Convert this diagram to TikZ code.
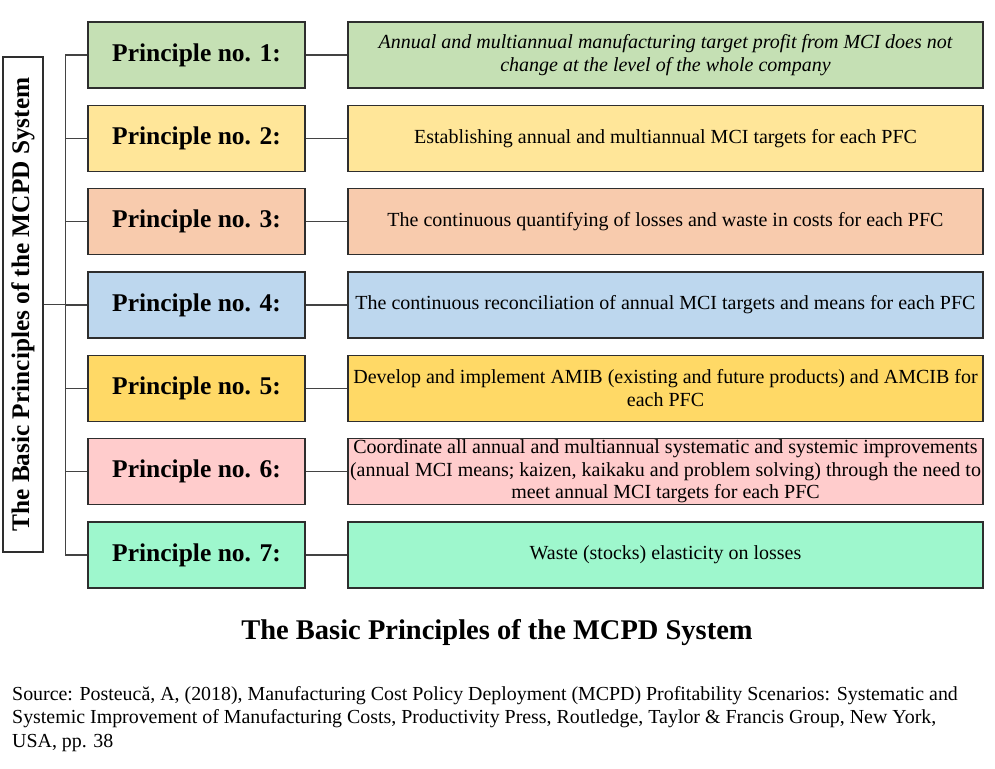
\documentclass[tikz,border=0pt]{standalone}
\usepackage{fontspec}
\setmainfont{Liberation Serif}
\definecolor{cA}{HTML}{C5E0B4}
\definecolor{cB}{HTML}{FFE699}
\definecolor{cC}{HTML}{F8CBAD}
\definecolor{cD}{HTML}{BDD7EE}
\definecolor{cE}{HTML}{FFD966}
\definecolor{cF}{HTML}{FFCCCC}
\definecolor{cG}{HTML}{9EF7CD}
\definecolor{edge}{HTML}{2E2E2E}
\begin{document}
\begin{tikzpicture}[x=1pt,y=-1pt,
 pbox/.style={draw=edge, line width=1.2pt, minimum width=217pt, minimum height=66pt, inner sep=0pt, font=\fontsize{25.5}{30}\selectfont\bfseries},
 dbox/.style={draw=edge, line width=1.2pt, minimum width=635pt, minimum height=66pt, inner sep=0pt, align=center, font=\fontsize{20}{22.5}\selectfont},
 conn/.style={draw=edge!90, line width=1.2pt},
 srcline/.style={anchor=base west, inner sep=0pt, font=\fontsize{19.9}{23}\selectfont}]
\useasboundingbox (0,0) rectangle (995,768);
% left rotated box
\node[draw=edge, line width=1.2pt, rotate=90, minimum width=495pt, minimum height=40pt, inner sep=0pt, font=\fontsize{25.3}{30}\selectfont\bfseries] (lb) at (23,304.5) {The Basic Principles of the MCPD System};
% principle boxes
\node[pbox, fill=cA] (p1) at (196.5,55) {Principle no. 1:};
\node[pbox, fill=cB] (p2) at (196.5,138.3) {Principle no. 2:};
\node[pbox, fill=cC] (p3) at (196.5,221.7) {Principle no. 3:};
\node[pbox, fill=cD] (p4) at (196.5,305) {Principle no. 4:};
\node[pbox, fill=cE] (p5) at (196.5,388.3) {Principle no. 5:};
\node[pbox, fill=cF] (p6) at (196.5,471.7) {Principle no. 6:};
\node[pbox, fill=cG] (p7) at (196.5,555) {Principle no. 7:};
% description boxes
\node[dbox, fill=cA] (d1) at (665.5,55) {\itshape Annual and multiannual manufacturing target profit from MCI does not\\\itshape change at the level of the whole company};
\node[dbox, fill=cB] (d2) at (665.5,138.3) {Establishing annual and multiannual MCI targets for each PFC};
\node[dbox, fill=cC] (d3) at (665.5,221.7) {The continuous quantifying of losses and waste in costs for each PFC};
\node[dbox, fill=cD] (d4) at (665.5,305) {The continuous reconciliation of annual MCI targets and means for each PFC};
\node[dbox, fill=cE] (d5) at (665.5,388.3) {Develop and implement AMIB (existing and future products) and AMCIB for\\each PFC};
\node[dbox, fill=cF] (d6) at (665.5,471.7) {Coordinate all annual and multiannual systematic and systemic improvements\\(annual MCI means; kaizen, kaikaku and problem solving) through the need to\\meet annual MCI targets for each PFC};
\node[dbox, fill=cG] (d7) at (665.5,555) {Waste (stocks) elasticity on losses};
% connectors
\draw[conn] (p1.west) -- ++(-22,0) |- (p7.west);
\foreach \i in {2,...,6} {\draw[conn] (p\i.west) -- ++(-22,0);}
\draw[conn] (lb.south) -- ++(22,0);
\foreach \i in {1,...,7} {\draw[conn] (p\i.east) -- (d\i.west);}
% title and source
\node[font=\fontsize{28.5}{32}\selectfont\bfseries] (title) at (497,633) {The Basic Principles of the MCPD System};
\node[srcline] (s1) at (12,700) {Source: Posteucă, A, (2018), Manufacturing Cost Policy Deployment (MCPD) Profitability Scenarios: Systematic and};
\node[srcline] (s2) at (12,723.5) {Systemic Improvement of Manufacturing Costs, Productivity Press, Routledge, Taylor \& Francis Group, New York,};
\node[srcline] (s3) at (12,747) {USA, pp. 38};
\end{tikzpicture}
\end{document}
